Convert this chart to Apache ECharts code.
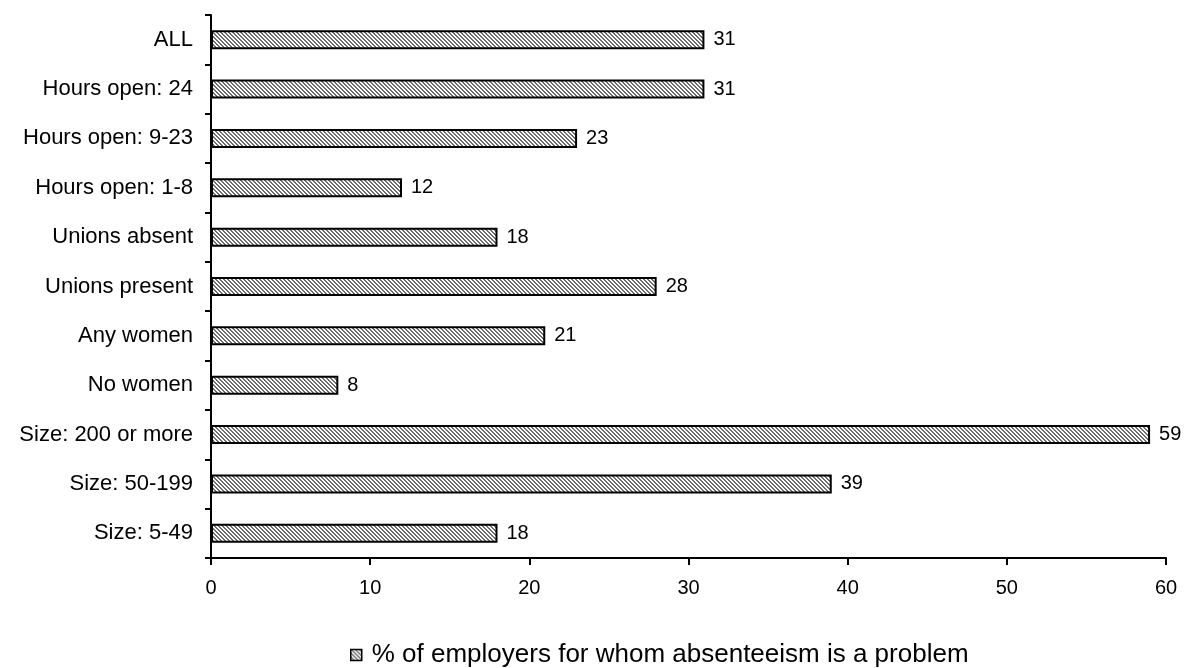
<!DOCTYPE html>
<html>
<head>
<meta charset="utf-8">
<script src="https://cdn.jsdelivr.net/npm/echarts@6/dist/echarts.min.js"></script>
<style>
  html, body { margin: 0; padding: 0; background: #fff; }
  #chart { width: 1193px; height: 668px; }
</style>
</head>
<body>
<div id="chart"></div>
<script>
// Groups, listed top to bottom
const categories = [
  'ALL',
  'Hours open: 24',
  'Hours open: 9-23',
  'Hours open: 1-8',
  'Unions absent',
  'Unions present',
  'Any women',
  'No women',
  'Size: 200 or more',
  'Size: 50-199',
  'Size: 5-49'
];
// Share of employers reporting absenteeism as a problem (%)
const values = [31, 31, 23, 12, 18, 28, 21, 8, 59, 39, 18];
const seriesName = '% of employers for whom absenteeism is a problem';
const xTicks = [0, 10, 20, 30, 40, 50, 60];

// Diagonal hatch fill for the bars
function hatchCanvas() {
  const c = document.createElement('canvas');
  c.width = 4; c.height = 4;
  const ctx = c.getContext('2d');
  ctx.fillStyle = '#ffffff';
  ctx.fillRect(0, 0, 4, 4);
  ctx.fillStyle = '#6e6e6e';
  for (let i = 0; i < 4; i++) {
    ctx.fillRect(i, i, 1, 1);
    ctx.fillRect((i + 1) % 4, i, 1, 1);
  }
  return c;
}
const hatch = { image: hatchCanvas(), repeat: 'repeat' };

const font = 'Liberation Sans, Arial, sans-serif';
const chart = echarts.init(document.getElementById('chart'));
chart.setOption({
  animation: false,
  backgroundColor: '#ffffff',
  grid: { left: 211, right: 27, top: 15, bottom: 110, containLabel: false },
  legend: {
    top: 637,
    left: 345,
    itemWidth: 11,
    itemHeight: 11,
    icon: 'rect',
    textStyle: { fontFamily: font, fontSize: 26, color: '#000', padding: [0, 0, 0, 5] },
    data: [{ name: seriesName, itemStyle: { color: hatch, borderColor: '#000', borderWidth: 1.5 } }]
  },
  xAxis: {
    type: 'value',
    min: 0,
    max: 60,
    interval: 10,
    axisLine: { show: true, lineStyle: { color: '#000', width: 2 } },
    axisTick: { show: true, length: 7, inside: false, lineStyle: { color: '#000', width: 2 } },
    splitLine: { show: false },
    axisLabel: {
      fontFamily: font, fontSize: 20, color: '#000', margin: 20,
      formatter: v => xTicks.includes(v) ? String(v) : ''
    }
  },
  yAxis: {
    type: 'category',
    data: categories,
    inverse: true,
    boundaryGap: true,
    axisLine: { show: true, lineStyle: { color: '#000', width: 2 } },
    axisTick: { show: true, length: 6, lineStyle: { color: '#000', width: 2 } },
    axisLabel: { fontFamily: font, fontSize: 22, color: '#000', margin: 18 }
  },
  series: [{
    name: seriesName,
    type: 'bar',
    data: values,
    barWidth: 19,
    itemStyle: { color: hatch, borderColor: '#000', borderWidth: 2 },
    label: {
      show: true,
      position: 'right',
      distance: 9,
      fontFamily: font,
      fontSize: 20,
      color: '#000'
    }
  }]
});
</script>
</body>
</html>
